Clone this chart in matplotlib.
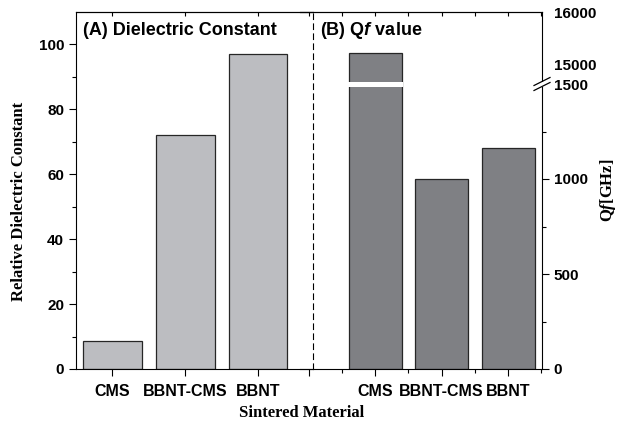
import numpy as np
import matplotlib.pyplot as plt
from matplotlib.patches import Rectangle
from matplotlib.transforms import blended_transform_factory

# sintered materials and their measured properties
materials = ["CMS", "BBNT-CMS", "BBNT"]
dielectric_const = [8.5, 72, 97]
qf_values = [15220, 1000, 1165]

plt.rcParams['font.family'] = 'Liberation Sans'
plt.rcParams['font.weight'] = 'bold'
plt.rcParams['mathtext.fontset'] = 'custom'
plt.rcParams['mathtext.it'] = 'Liberation Serif:italic:bold'
plt.rcParams['mathtext.sf'] = 'Liberation Sans:italic:bold'
plt.rcParams['axes.linewidth'] = 0.8

light = '#bcbdc1'
dark = '#7f8084'
edge = '#262626'

W, H = 624, 428


def px_box(l, r, t, b):
    return [l / W, 1 - b / H, (r - l) / W, (b - t) / H]


# broken y scale for Qf: 0-1500 on the lower part, 15000-16000 on top
brk_vals = [0, 1500, 15000, 16000]
brk_pos = [0, 285, 304, 357]


def fwd(v):
    return np.interp(v, brk_vals, brk_pos)


def inv(p):
    return np.interp(p, brk_pos, brk_vals)


fig = plt.figure(figsize=(6.24, 4.28), dpi=100)
ax1 = fig.add_axes(px_box(76, 313, 12, 369))
ax2 = fig.add_axes(px_box(300, 542, 12, 369))
ax2.patch.set_visible(False)

x = np.arange(1, len(materials) + 1)

# (A) dielectric constant
ax1.bar(x, dielectric_const, width=0.8, color=light, edgecolor=edge, linewidth=0.9)
ax1.set_xlim(0.5, 3.75)
ax1.set_ylim(0, 110)
ax1.set_xticks(x, materials)
ax1.set_yticks(np.arange(0, 101, 20))
ax1.set_yticks(np.arange(10, 100, 20), minor=True)
ax1.tick_params(axis='both', which='major', length=5, width=0.8, labelsize=11)
ax1.tick_params(axis='both', which='minor', length=3, width=0.8)
ax1.tick_params(axis='x', labelsize=11.5, pad=6)
ax1.spines['right'].set_linestyle((0, (5, 4)))
ax1.set_ylabel("Relative Dielectric Constant", family='Liberation Serif',
               fontsize=12, fontweight='bold', va='center')
ax1.yaxis.set_label_coords((19 - 76) / 237, 0.468)
ax1.text(0.03, 0.947, "(A) Dielectric Constant", transform=ax1.transAxes,
         fontsize=13, va='center', ha='left')

top1 = ax1.secondary_xaxis('top')
top1.set_xticks(x, [])
top1.tick_params(direction='in', length=3, width=0.8)

# (B) Qf value
ax2.set_yscale('function', functions=(fwd, inv))
ax2.bar(x, qf_values, width=0.8, color=dark, edgecolor=edge, linewidth=0.9)
ax2.set_xlim(-0.13, 3.51)
ax2.set_ylim(0, 16000)
ax2.spines['left'].set_visible(False)
ax2.yaxis.tick_right()
ax2.set_yticks([0, 500, 1000, 1500, 15000, 16000],
               ['0', '500', '1000', '1500', '15000', '16000'])
ax2.set_yticks([250, 750, 1250], minor=True)
ax2.set_xticks([0, 1, 2, 3], [''] + materials)
ax2.set_xticks([0.5, 1.5, 2.5, 3.5], minor=True)
ax2.tick_params(axis='both', which='major', length=5, width=0.8, labelsize=11)
ax2.tick_params(axis='both', which='minor', length=3, width=0.8)
ax2.tick_params(axis='x', labelsize=11.5, pad=6)
for t in ax2.yaxis.get_major_ticks()[3:]:
    t.tick2line.set_visible(False)
ax2.yaxis.set_label_position('right')
ax2.set_ylabel(r"Q$f$[GHz]", family='Liberation Serif', fontsize=12,
               fontweight='bold', va='center')
ax2.yaxis.set_label_coords((608 - 300) / 242, 0.501)
ax2.text(0.083, 0.947, r"(B) Q$\mathsf{f}$ value", transform=ax2.transAxes,
         fontsize=13, va='center', ha='left')

top2 = ax2.secondary_xaxis('top')
top2.set_xticks(np.arange(0, 3.6, 0.5), [])
top2.tick_params(direction='in', length=3, width=0.8)

# break marks on the Qf axis
w2, h2 = 242, 357
yb = fwd(1500) / fwd(16000)
btrans = blended_transform_factory(ax2.transData, ax2.transAxes)
ax2.add_patch(Rectangle((1 - 0.42, yb - 2.5 / h2), 0.84, 5 / h2, transform=btrans,
                        facecolor='white', edgecolor='none', zorder=3))
ax2.add_patch(Rectangle((1 - 3 / w2, yb - 2.5 / h2), 6 / w2, 5 / h2,
                        transform=ax2.transAxes, facecolor='white',
                        edgecolor='none', zorder=4, clip_on=False))
for dy in (-2.5, 2.5):
    ax2.plot([1 - 8 / w2, 1 + 8 / w2],
             [yb + (dy - 4) / h2, yb + (dy + 4) / h2],
             transform=ax2.transAxes, color='black', lw=0.9,
             clip_on=False, zorder=5)

fig.text(302 / W, 1 - 413 / H, "Sintered Material", family='Liberation Serif',
         fontsize=12, fontweight='bold', ha='center', va='center')

fig.savefig('out.png', dpi=100)
